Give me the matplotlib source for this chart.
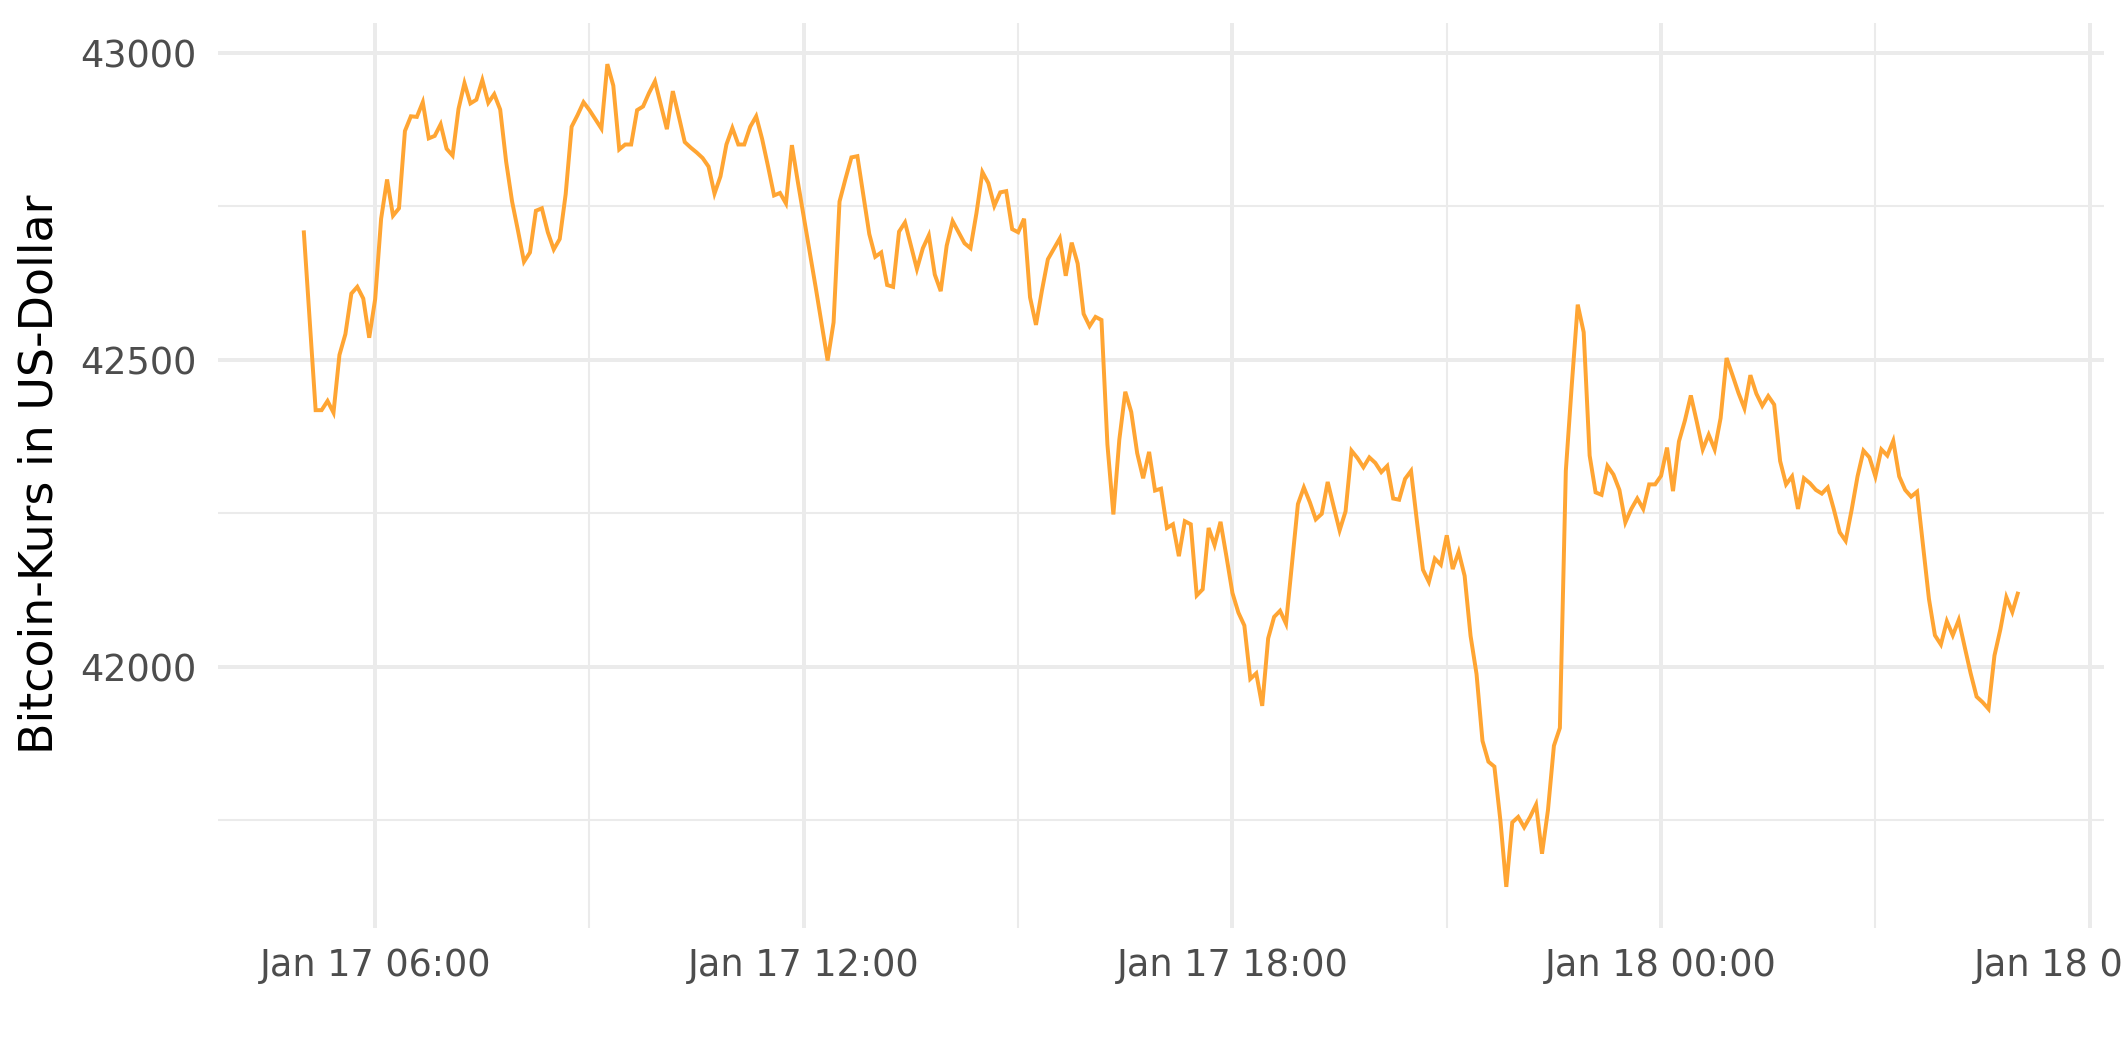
import matplotlib
matplotlib.use("Agg")
import matplotlib.pyplot as plt
import matplotlib.dates as mdates
import pandas as pd
import numpy as np

# ---- data ----
start_time = "2024-01-17 05:00"
interval_minutes = 5
prices = [
    42711, 42564, 42418, 42418, 42433, 42414, 42508, 42542, 42608, 42619,
    42600, 42536, 42599, 42730, 42794, 42735, 42747, 42873, 42897, 42896,
    42920, 42861, 42865, 42884, 42844, 42833, 42909, 42951, 42918, 42924,
    42956, 42919, 42933, 42908, 42823, 42758, 42710, 42660, 42675, 42743,
    42747, 42708, 42680, 42697, 42770, 42880, 42899, 42920, 42907, 42892,
    42877, 42982, 42947, 42843, 42851, 42851, 42907, 42913, 42935, 42954,
    42915, 42876, 42938, 42897, 42855, 42846, 42838, 42829, 42815, 42771,
    42799, 42851, 42878, 42851, 42851, 42880, 42897, 42860, 42815, 42768,
    42772, 42755, 42850, 42790, 42733, 42677, 42618, 42558, 42499, 42561,
    42758, 42795, 42830, 42832, 42768, 42705, 42668, 42675, 42622, 42619,
    42709, 42724, 42686, 42648, 42682, 42703, 42639, 42612, 42686, 42726,
    42708, 42690, 42682, 42739, 42806, 42788, 42751, 42773, 42775, 42713,
    42708, 42730, 42602, 42557, 42613, 42664, 42681, 42698, 42637, 42691,
    42657, 42575, 42555, 42570, 42565, 42362, 42248, 42370, 42448, 42415,
    42348, 42307, 42350, 42287, 42290, 42226, 42232, 42180, 42237, 42232,
    42116, 42126, 42226, 42198, 42236, 42179, 42120, 42088, 42067, 41980,
    41989, 41936, 42046, 42081, 42091, 42070, 42167, 42265, 42292, 42268,
    42240, 42249, 42301, 42261, 42222, 42253, 42352, 42340, 42325, 42341,
    42332, 42317, 42327, 42274, 42272, 42306, 42319, 42236, 42158, 42138,
    42176, 42166, 42214, 42159, 42187, 42148, 42050, 41988, 41879, 41845,
    41837, 41750, 41641, 41746, 41755, 41738, 41755, 41775, 41695, 41766,
    41871, 41900, 42319, 42459, 42590, 42545, 42344, 42284, 42280, 42327,
    42313, 42288, 42235, 42257, 42274, 42257, 42297, 42297, 42311, 42357,
    42286, 42367, 42401, 42442, 42399, 42354, 42378, 42354, 42405, 42503,
    42475, 42446, 42421, 42475, 42445, 42425, 42441, 42427, 42335, 42297,
    42310, 42257, 42307, 42299, 42288, 42282, 42292, 42257, 42219, 42205,
    42255, 42310, 42352, 42341, 42310, 42354, 42344, 42368, 42310, 42288,
    42277, 42285, 42198, 42110, 42051, 42036, 42074, 42051, 42076, 42032,
    41989, 41951, 41942, 41931, 42018, 42061, 42113, 42089, 42122,
]
y_ticks = [42000, 42500, 43000]
y_minor_ticks = [41750, 42250, 42750]
y_label = "Bitcoin-Kurs in US-Dollar"

times = pd.date_range(start_time, periods=len(prices), freq=f"{interval_minutes}min")

# ---- styling ----
LINE_COLOR = "#FFA533"
GRID_COLOR = "#EBEBEB"
TEXT_GREY = "#4D4D4D"

plt.rcParams["font.family"] = ["DejaVu Sans"]

W, H, DPI = 2125, 1062, 300
fig = plt.figure(figsize=(W / DPI, H / DPI), dpi=DPI)
ax = fig.add_axes([218 / W, 1 - 928 / H, (2104 - 218) / W, (928 - 23) / H])

ax.plot(times, prices, color=LINE_COLOR, linewidth=0.95, solid_joinstyle="miter",
        solid_capstyle="butt", zorder=3)

# limits with ggplot-like 5% expansion
t0, t1 = mdates.date2num(times[0]), mdates.date2num(times[-1])
tp = (t1 - t0) * 0.05
ax.set_xlim(t0 - tp, t1 + tp)
pmin, pmax = min(prices), max(prices)
pp = (pmax - pmin) * 0.05
ax.set_ylim(pmin - pp, pmax + pp)

ax.xaxis.set_major_locator(mdates.HourLocator(byhour=[0, 6, 12, 18]))
ax.xaxis.set_minor_locator(mdates.HourLocator(byhour=[3, 9, 15, 21]))
ax.xaxis.set_major_formatter(mdates.DateFormatter("%b %d %H:%M"))
ax.set_yticks(y_ticks)
ax.set_yticks(y_minor_ticks, minor=True)
ax.yaxis.set_major_formatter(matplotlib.ticker.FuncFormatter(lambda v, p: f"{int(v)}"))

ax.grid(which="major", color=GRID_COLOR, linewidth=0.95)
ax.grid(which="minor", color=GRID_COLOR, linewidth=0.5)
ax.set_axisbelow(True)
for s in ax.spines.values():
    s.set_visible(False)

ax.tick_params(axis="both", which="both", length=0)
ax.tick_params(axis="y", which="major", pad=5.2, labelsize=8.8, labelcolor=TEXT_GREY)
ax.tick_params(axis="x", which="major", pad=4.6, labelsize=8.8, labelcolor=TEXT_GREY)

fig.text(40 / W, 1 - 474 / H, y_label, rotation=90, ha="center", va="center",
         fontsize=11, color="black")

fig.savefig("out.png", dpi=DPI)
